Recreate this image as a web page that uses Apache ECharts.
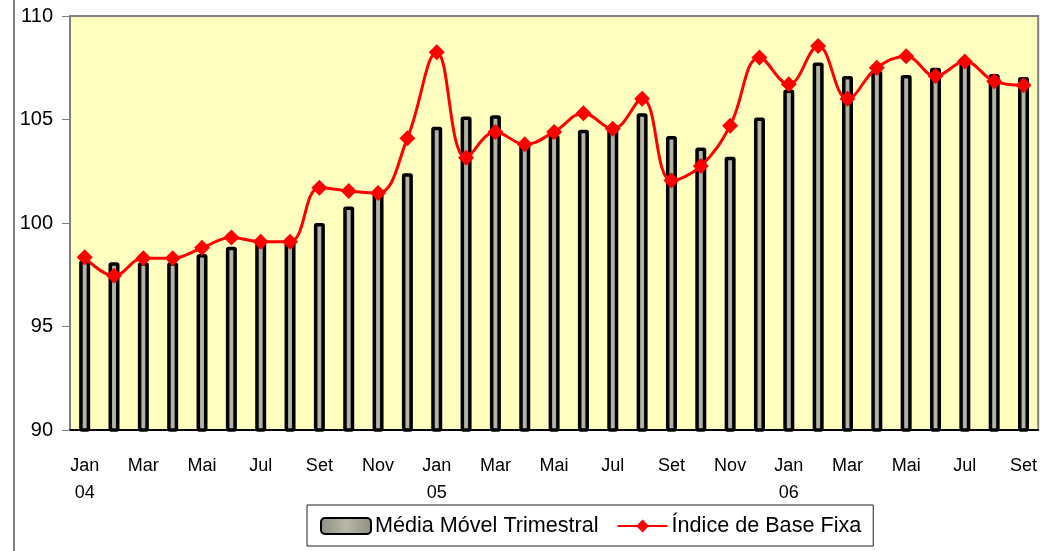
<!DOCTYPE html>
<html>
<head>
<meta charset="utf-8">
<script src="https://cdn.jsdelivr.net/npm/echarts@6/dist/echarts.min.js"></script>
<style>
  html, body { margin: 0; padding: 0; background: #fff; }
  #chart { width: 1040px; height: 551px; }
</style>
</head>
<body>
<div id="chart"></div>
<script>
// meses Jan 04 .. Set 06
var categories = [
    'Jan\n04', 'Fev', 'Mar', 'Abr', 'Mai', 'Jun', 'Jul', 'Ago', 'Set', 'Out', 'Nov', 'Dez',
    'Jan\n05', 'Fev', 'Mar', 'Abr', 'Mai', 'Jun', 'Jul', 'Ago', 'Set', 'Out', 'Nov', 'Dez',
    'Jan\n06', 'Fev', 'Mar', 'Abr', 'Mai', 'Jun', 'Jul', 'Ago', 'Set'
];
var mediaMovel = [
    98.2, 98.1, 98.1, 98.1, 98.5, 98.85, 99.05, 99.15, 100.0, 100.8, 101.55, 102.4,
    104.65, 105.15, 105.2, 103.8, 104.25, 104.5, 104.75, 105.3, 104.2, 103.65, 103.2, 105.1,
    106.45, 107.75, 107.1, 107.35, 107.15, 107.5, 107.7, 107.2, 107.05
];
var indiceBase = [
    98.35, 97.45, 98.3, 98.3, 98.8, 99.3, 99.1, 99.1, 101.7, 101.55, 101.45, 104.1,
    108.25, 103.15, 104.4, 103.8, 104.4, 105.3, 104.55, 106.0, 102.05, 102.75, 104.7, 108.0,
    106.7, 108.55, 106.0, 107.5, 108.05, 107.1, 107.8, 106.85, 106.65
];
var yTicks = { min: 90, max: 110, step: 5 };

var font = '"Liberation Sans", Arial, sans-serif';
var chart = echarts.init(document.getElementById('chart'));

var barFill = new echarts.graphic.LinearGradient(0, 0, 1, 0, [
    { offset: 0, color: '#8e8e82' },
    { offset: 0.5, color: '#b8b8a8' },
    { offset: 1, color: '#8e8e82' }
]);

chart.setOption({
    animation: false,
    backgroundColor: '#fff',
    textStyle: { fontFamily: font },
    grid: {
        left: 70, right: 0, top: 16, bottom: 121,
        show: true,
        backgroundColor: '#ffffc0',
        borderColor: '#808080',
        borderWidth: 2
    },
    graphic: [{
        type: 'line',
        shape: { x1: 14, y1: 0, x2: 14, y2: 551 },
        style: { stroke: '#000', lineWidth: 1 }
    }],
    legend: {
        left: 307, top: 505,
        padding: [10, 12, 9, 13],
        borderColor: '#222',
        borderWidth: 1,
        itemGap: 18,
        itemWidth: 50,
        itemHeight: 16,
        textStyle: { fontSize: 21.6, color: '#000', fontFamily: font, padding: [3, 0, 0, -1] },
        data: ['Média Móvel Trimestral', 'Índice de Base Fixa']
    },
    xAxis: {
        type: 'category',
        data: categories,
        axisLine: { lineStyle: { color: '#000', width: 2 } },
        axisTick: { interval: 0, length: 6, lineStyle: { color: '#000' } },
        axisLabel: {
            interval: 1, fontSize: 18, color: '#000', lineHeight: 27, margin: 23,
            fontFamily: font
        }
    },
    yAxis: {
        type: 'value',
        min: yTicks.min, max: yTicks.max, interval: yTicks.step,
        axisLine: { show: true, lineStyle: { color: '#808080', width: 2 } },
        axisTick: { show: true, length: 8, lineStyle: { color: '#808080' } },
        splitLine: { show: false },
        axisLabel: { fontSize: 20, color: '#000', margin: 17, fontFamily: font }
    },
    series: [
        {
            name: 'Média Móvel Trimestral',
            type: 'bar',
            data: mediaMovel,
            barWidth: 11,
            itemStyle: {
                color: barFill,
                borderColor: '#000',
                borderWidth: 3.5,
                borderRadius: 1
            }
        },
        {
            name: 'Índice de Base Fixa',
            type: 'line',
            data: indiceBase,
            smooth: 0.4,
            symbol: 'diamond',
            symbolSize: 16,
            lineStyle: { color: '#ff0000', width: 3 },
            itemStyle: { color: '#ff0000' }
        }
    ]
});
</script>
</body>
</html>
